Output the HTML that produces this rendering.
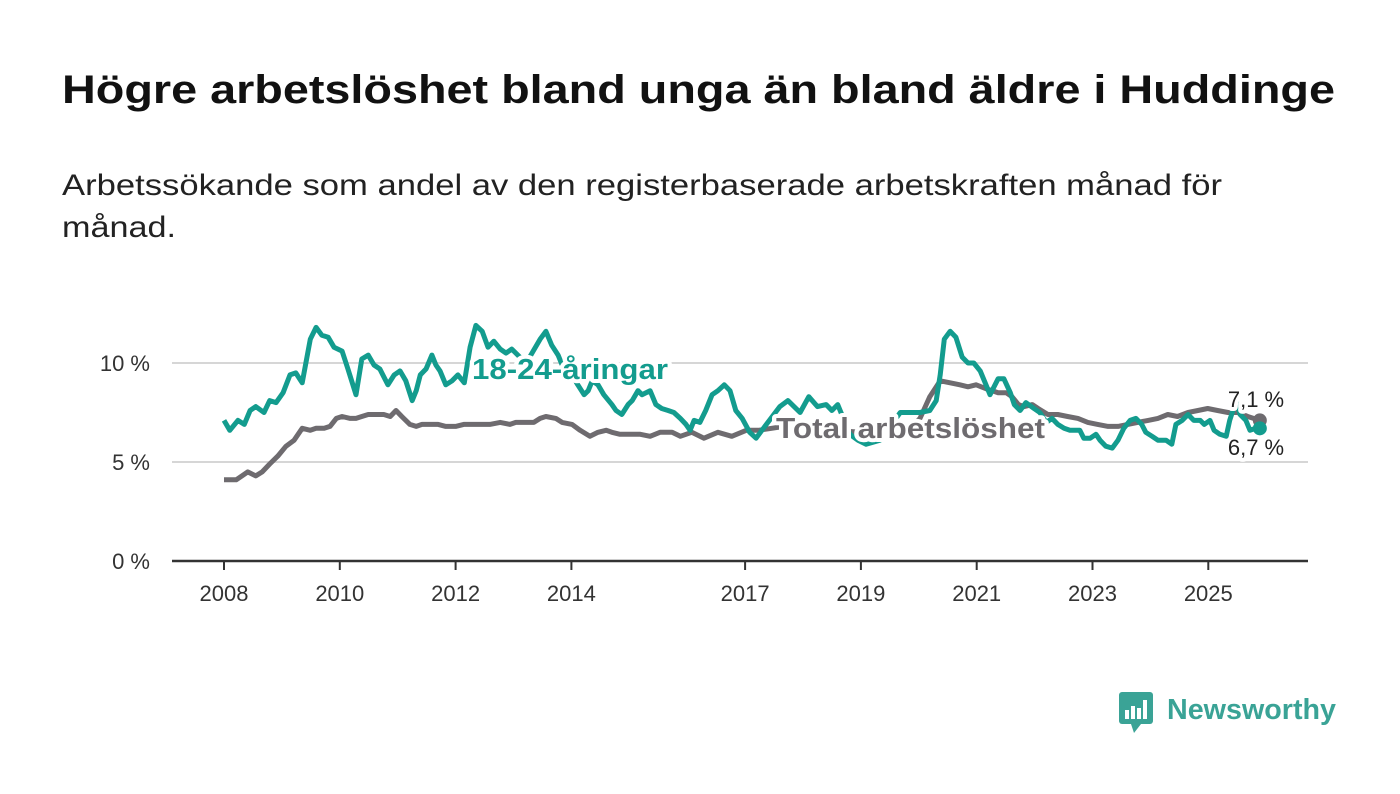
<!DOCTYPE html>
<html><head><meta charset="utf-8"><style>
html,body{margin:0;padding:0;background:#fff;}
svg{display:block;font-family:"Liberation Sans",sans-serif;}
</style></head><body>
<svg id="chart" width="1400" height="794" viewBox="0 0 1400 794">
<text x="62" y="103" font-size="40" font-weight="bold" fill="#111" textLength="1273" lengthAdjust="spacingAndGlyphs">Högre arbetslöshet bland unga än bland äldre i Huddinge</text>
<text x="62" y="195" font-size="30" fill="#222" textLength="1160" lengthAdjust="spacingAndGlyphs">Arbetssökande som andel av den registerbaserade arbetskraften månad för</text>
<text x="62" y="237" font-size="30" fill="#222" textLength="114" lengthAdjust="spacingAndGlyphs">månad.</text>
<g id="grid"></g>
<g id="yticks"></g>
<g id="xticks"></g>
<g id="series"></g>
<g id="labels"></g>
<g>
<rect x="1119" y="692" width="34" height="32" rx="3" fill="#3aa396"/>
<polygon points="1131,724 1141,724 1134,733" fill="#3aa396"/>
<rect x="1125" y="710" width="4" height="9" fill="#fff"/><rect x="1131" y="706" width="4" height="13" fill="#fff"/><rect x="1137" y="708" width="4" height="11" fill="#fff"/><rect x="1143" y="700" width="4" height="19" fill="#fff"/>
<text x="1167" y="719" font-size="29" font-weight="bold" fill="#3aa396" textLength="169" lengthAdjust="spacingAndGlyphs">Newsworthy</text>
</g>
</svg>
<script>
const yTicks=[0,5,10];
const yTickLabels=["0 %","5 %","10 %"];
const xTicks=[2008,2010,2012,2014,2017,2019,2021,2023,2025];
const youthDates=[0,.10,.24,.35,.45,.55,.69,.79,.90,1.02,1.14,1.24,1.35,1.49,1.59,1.69,1.80,1.90,2.04,2.14,2.28,2.38,2.49,2.59,2.69,2.83,2.94,3.04,3.14,3.25,3.32,3.39,3.49,3.59,3.66,3.73,3.83,3.94,4.04,4.15,4.25,4.35,4.46,4.56,4.66,4.77,4.87,4.97,5.11,5.22,5.32,5.46,5.56,5.66,5.77,5.91,6.01,6.11,6.22,6.29,6.36,6.46,6.56,6.70,6.77,6.87,6.98,7.05,7.15,7.22,7.36,7.46,7.56,7.67,7.77,7.88,7.98,8.05,8.12,8.22,8.32,8.43,8.53,8.64,8.74,8.84,8.95,9.08,9.19,9.29,9.60,9.74,9.95,10.1,10.25,10.40,10.50,10.60,10.81,10.95,11.09,11.33,11.68,12.02,12.19,12.30,12.37,12.44,12.54,12.64,12.75,12.85,12.95,13.06,13.16,13.23,13.37,13.47,13.58,13.65,13.75,13.85,13.99,14.09,14.20,14.30,14.40,14.51,14.61,14.78,14.85,14.96,15.06,15.13,15.23,15.34,15.44,15.54,15.65,15.75,15.85,15.92,16.03,16.13,16.27,16.37,16.44,16.55,16.65,16.75,16.86,16.93,17.03,17.10,17.20,17.31,17.37,17.48,17.55,17.65,17.72,17.82,17.89];
const youthValues=[7.1,6.6,7.1,6.9,7.6,7.8,7.5,8.1,8.0,8.5,9.4,9.5,9.0,11.2,11.8,11.4,11.3,10.8,10.6,9.7,8.4,10.2,10.4,9.9,9.7,8.9,9.4,9.6,9.1,8.1,8.6,9.4,9.7,10.4,9.9,9.6,8.9,9.1,9.4,9.0,10.8,11.9,11.6,10.8,11.1,10.7,10.5,10.7,10.3,10.0,10.5,11.2,11.6,10.9,10.4,9.4,9.4,8.9,8.4,8.6,9.1,8.9,8.4,7.9,7.6,7.4,7.9,8.1,8.6,8.4,8.6,7.9,7.7,7.6,7.5,7.2,6.9,6.6,7.1,7.0,7.6,8.4,8.6,8.9,8.6,7.6,7.2,6.5,6.2,6.6,7.8,8.1,7.5,8.3,7.8,7.9,7.6,7.9,6.4,6.1,5.9,6.1,7.5,7.5,7.6,8.1,9.4,11.2,11.6,11.3,10.3,10.0,10.0,9.6,8.9,8.4,9.2,9.2,8.5,7.9,7.6,8.0,7.7,7.5,7.0,7.2,6.9,6.7,6.6,6.6,6.2,6.2,6.4,6.1,5.8,5.7,6.1,6.7,7.1,7.2,6.9,6.5,6.3,6.1,6.1,5.9,6.9,7.1,7.4,7.1,7.1,6.9,7.1,6.6,6.4,6.3,7.1,8.1,7.4,7.1,6.6,6.7,6.7];
const totalDates=[0,.21,.31,.41,.55,.66,.79,.93,1.07,1.21,1.35,1.49,1.59,1.73,1.83,1.94,2.04,2.18,2.28,2.38,2.49,2.63,2.76,2.87,2.97,3.07,3.21,3.32,3.42,3.56,3.70,3.83,4.00,4.14,4.28,4.42,4.59,4.77,4.94,5.04,5.21,5.35,5.46,5.56,5.73,5.84,6.01,6.15,6.32,6.46,6.60,6.70,6.84,7.19,7.36,7.53,7.74,7.88,8.08,8.29,8.53,8.77,9.02,9.23,9.46,9.67,10.0,10.5,11.0,11.5,11.85,12.02,12.19,12.37,12.54,12.71,12.85,12.99,13.16,13.27,13.37,13.51,13.61,13.72,13.82,13.96,14.06,14.23,14.40,14.57,14.75,14.92,15.09,15.27,15.44,15.61,15.78,15.96,16.13,16.30,16.47,16.65,16.82,16.99,17.16,17.34,17.51,17.68,17.89];
const totalValues=[4.1,4.1,4.3,4.5,4.3,4.5,4.9,5.3,5.8,6.1,6.7,6.6,6.7,6.7,6.8,7.2,7.3,7.2,7.2,7.3,7.4,7.4,7.4,7.3,7.6,7.3,6.9,6.8,6.9,6.9,6.9,6.8,6.8,6.9,6.9,6.9,6.9,7.0,6.9,7.0,7.0,7.0,7.2,7.3,7.2,7.0,6.9,6.6,6.3,6.5,6.6,6.5,6.4,6.4,6.3,6.5,6.5,6.3,6.5,6.2,6.5,6.3,6.6,6.6,6.7,6.8,6.7,6.6,6.5,6.6,6.7,7.2,8.3,9.1,9.0,8.9,8.8,8.9,8.7,8.6,8.5,8.5,8.3,7.9,7.8,7.9,7.7,7.4,7.4,7.3,7.2,7.0,6.9,6.8,6.8,6.9,7.0,7.1,7.2,7.4,7.3,7.5,7.6,7.7,7.6,7.5,7.5,7.3,7.1];
const NS="http://www.w3.org/2000/svg";
const x=t=>224+(t-2008)*57.9;
const xd=d=>x(2008+d);
const y=v=>561-v*19.8;
function mk(tag,attrs,parent){const e=document.createElementNS(NS,tag);for(const k in attrs)e.setAttribute(k,attrs[k]);document.getElementById(parent).appendChild(e);return e;}
yTicks.forEach((v,i)=>{
  if(v>0){const g=mk('line',{x1:172,x2:1308,y1:y(v),y2:y(v),stroke:'#d6d6d6','stroke-width':2},'grid');
  
  }
  const t=mk('text',{x:150,y:y(v)+8,'font-size':22,fill:'#333','text-anchor':'end'},'yticks');
  t.textContent=yTickLabels[i];
  
  
});
const ax=mk('line',{x1:172,x2:1308,y1:561,y2:561,stroke:'#333','stroke-width':2.5},'xticks');


xTicks.forEach(yr=>{
  mk('line',{x1:x(yr),x2:x(yr),y1:561,y2:570,stroke:'#333','stroke-width':2},'xticks');
  const t=mk('text',{x:x(yr),y:601,'font-size':22,fill:'#333','text-anchor':'middle'},'xticks');
  t.textContent=yr;
  
  
});
function line(dates,vals,color,name){
  const d=dates.map((t,i)=>(i?'L':'M')+xd(t).toFixed(1)+','+y(vals[i]).toFixed(1)).join('');
  const p=mk('path',{d:d,fill:'none',stroke:color,'stroke-width':5,'stroke-linejoin':'round'},'series');
  
  
  const n=dates.length-1;
  const c=mk('circle',{cx:xd(dates[n]),cy:y(vals[n]),r:7,fill:color},'series');
  
  
}
line(totalDates,totalValues,'#6e6b6f','total-line');
line(youthDates,youthValues,'#139c8e','youth-line');
function lab(tx,ty,str,color,name,size,bold,anchor,len){
  const a={x:tx,y:ty,'font-size':size,'font-weight':bold?'bold':'normal',fill:color,stroke:'#fff','stroke-width':8,'paint-order':'stroke','stroke-linejoin':'round','text-anchor':anchor||'start'};
  if(len){a.textLength=len;a.lengthAdjust='spacingAndGlyphs';}
  const t=mk('text',a,'labels');
  t.textContent=str;
  
  
}
lab(472,379,'18-24-åringar','#139c8e','youth-series-label',29,true,'start',196);
lab(776,438,'Total arbetslöshet','#6e6b6f','total-series-label',29,true,'start',269);
lab(1256,407,(totalValues[totalValues.length-1]+'').replace('.',',')+' %','#222','total-end-value',22,false,'middle');
lab(1256,455,(youthValues[youthValues.length-1]+'').replace('.',',')+' %','#222','youth-end-value',22,false,'middle');
</script>
</body></html>
